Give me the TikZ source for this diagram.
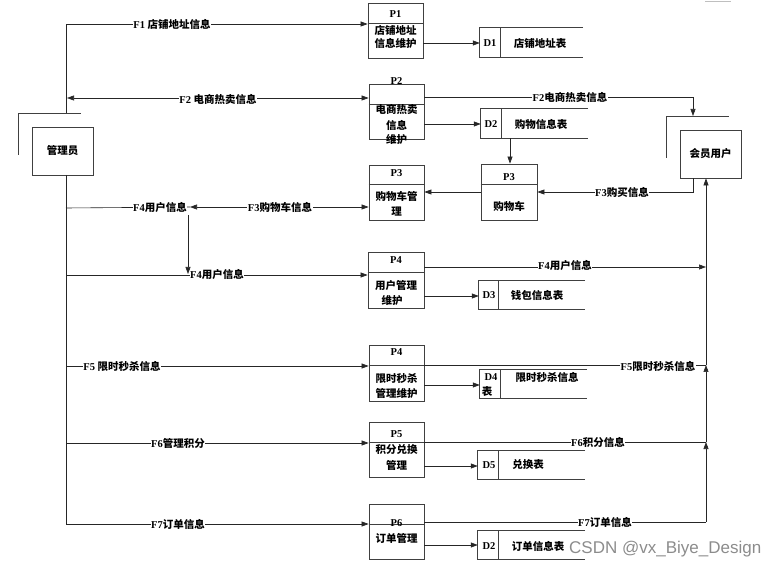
\documentclass[tikz,border=0pt]{standalone}
\usepackage{fontspec}
\setmainfont{Liberation Serif}
\newfontfamily\cjk{Noto Sans CJK SC}
\newfontfamily\wmfont{Liberation Sans}
\usetikzlibrary{arrows.meta}
\newcommand\zh[1]{{\cjk #1}}
\tikzset{
  boxline/.style={draw=black!75, line width=0.8pt},
  box/.style={boxline, inner sep=0pt, font=\fontsize{10.5}{12}\selectfont\bfseries},
  store/.style={inner sep=0pt, minimum height=29pt},
  txt/.style={inner sep=0.5pt, font=\fontsize{10.5}{12}\selectfont\bfseries},
  lab/.style={txt, fill=white},
  flow/.style={draw=black!85, line width=0.6pt},
  arr/.style={flow, -{Triangle[length=7pt,width=5pt]}},
  darr/.style={flow, {Triangle[length=7pt,width=5pt]}-{Triangle[length=7pt,width=5pt]}},
  proc/.style={box, minimum width=55pt, minimum height=55pt},
}
\begin{document}
\begin{tikzpicture}[x=1pt,y=-1pt]
\useasboundingbox (0,0) rectangle (774,569);
% external entities
\node[box, minimum width=61pt, minimum height=48pt] (mgr) at (62.5,151) {\zh{管理员}};
\draw[boxline] (18,155) -- (18,113) -- (81,113);
\node[box, minimum width=61pt, minimum height=48pt] (mem) at (710.5,154) {\zh{会员用户}};
\draw[boxline] (666,158) -- (666,116) -- (729,116);
% processes
\node[proc] (P1) at (395.5,30.5) {};
\draw[boxline] (P1.west |- 0,23) -- (P1.east |- 0,23);
\node[txt] (P1id) at (395.5,14) {P1};
\node[txt] (P1a) at (395.5,30) {\zh{店铺地址}};
\node[txt] (P1b) at (395.5,43) {\zh{信息维护}};

\node[proc] (P2) at (396.5,111.5) {};
\draw[boxline] (P2.west |- 0,104) -- (P2.east |- 0,104);
\node[txt] (P2id) at (396.5,81) {P2};
\node[txt] (P2a) at (396.5,110) {\zh{电商热卖}};
\node[txt] (P2b) at (396.5,125) {\zh{信息}};
\node[txt] (P2c) at (396.5,140) {\zh{维护}};

\node[proc] (P3a) at (396.5,192.5) {};
\draw[boxline] (P3a.west |- 0,184) -- (P3a.east |- 0,184);
\node[txt] (P3aid) at (396.5,173) {P3};
\node[txt] (P3aa) at (396.5,196) {\zh{购物车管}};
\node[txt] (P3ab) at (396.5,212) {\zh{理}};

\node[proc, minimum width=56pt, minimum height=56pt] (P3b) at (509,192) {};
\draw[boxline] (P3b.west |- 0,184) -- (P3b.east |- 0,184);
\node[txt] (P3bid) at (509,177) {P3};
\node[txt] (P3ba) at (509,206) {\zh{购物车}};

\node[proc, minimum width=56pt, minimum height=56pt] (P4) at (396,280) {};
\draw[boxline] (P4.west |- 0,272) -- (P4.east |- 0,272);
\node[txt] (P4id) at (396,260) {P4};
\node[txt] (P4a) at (396,286) {\zh{用户管理}};
\node[txt] (P4b) at (392,301) {\zh{维护}};

\node[proc, minimum height=56pt] (P4x) at (396.5,373) {};
\node[txt] (P4xid) at (396.5,352) {P4};
\node[txt] (P4xa) at (396.5,378) {\zh{限时秒杀}};
\node[txt] (P4xb) at (396.5,393) {\zh{管理维护}};

\node[proc] (P5) at (396.5,449.5) {};
\node[txt] (P5id) at (396.5,434) {P5};
\node[txt] (P5a) at (396.5,450) {\zh{积分兑换}};
\node[txt] (P5b) at (396.5,465) {\zh{管理}};

\node[proc] (P6) at (396.5,531.5) {};
\node[txt] (P6a) at (396.5,538) {\zh{订单管理}};

% data stores
\node[store, minimum width=103pt] (D1) at (531.5,42.5) {};
\draw[boxline] (D1.north east) -- (D1.north west) -- (D1.south west) -- (D1.south east);
\draw[boxline] (500,28) -- (500,57);
\node[txt] (D1id) at (490,43) {D1};
\node[txt] (D1t) at (540,43) {\zh{店铺地址表}};

\node[store, minimum width=107pt] (D2) at (534.5,123.5) {};
\draw[boxline] (D2.north east) -- (D2.north west) -- (D2.south west) -- (D2.south east);
\draw[boxline] (501,109) -- (501,138);
\node[txt] (D2id) at (491,124) {D2};
\node[txt] (D2t) at (541,124) {\zh{购物信息表}};

\node[store, minimum width=106pt, minimum height=28pt] (D3) at (532,295) {};
\draw[boxline] (D3.north east) -- (D3.north west) -- (D3.south west) -- (D3.south east);
\draw[boxline] (498,281) -- (498,309);
\node[txt] (D3id) at (489,295) {D3};
\node[txt] (D3t) at (537,295) {\zh{钱包信息表}};

\node[store, minimum width=107pt, minimum height=28pt] (D4) at (533.5,384) {};
\draw[boxline] (D4.north east) -- (D4.north west) -- (D4.south west) -- (D4.south east);
\draw[boxline] (500,370) -- (500,398);
\node[txt] (D4id) at (491,377) {D4};
\node[txt] (D4b) at (487,392) {\zh{表}};
\node[txt] (D4t) at (547,377) {\zh{限时秒杀信息}};

\node[store, minimum width=107pt, minimum height=28pt] (D5) at (531.5,465) {};
\draw[boxline] (D5.north east) -- (D5.north west) -- (D5.south west) -- (D5.south east);
\draw[boxline] (498,451) -- (498,479);
\node[txt] (D5id) at (489,465) {D5};
\node[txt] (D5t) at (528,465) {\zh{兑换表}};

\node[store, minimum width=107pt, minimum height=28pt] (D6) at (531.5,545) {};
\draw[boxline] (D6.north east) -- (D6.north west) -- (D6.south west) -- (D6.south east);
\draw[boxline] (498,531) -- (498,559);
\node[txt] (D6id) at (489,546) {D2};
\node[txt] (D6t) at (538,546) {\zh{订单信息表}};

% trunk on the left
\coordinate (tS) at (66,113);
\coordinate (t1) at (66,24);
\coordinate (t2) at (67,98);
\coordinate (tM) at (66,175);
\coordinate (t3) at (66,208);
\coordinate (t4) at (66,275);
\coordinate (t5) at (66,366);
\coordinate (t6) at (66,443);
\coordinate (t7) at (66,524);
\draw[arr] (tS) -- (t1) -- (t1 -| P1.west);
\draw[flow] (tM) -- (t7);
\draw[darr] (t2) -- (t2 -| P2.west);
\coordinate (k3) at (190,207);
\draw[flow] (t3) -- (k3);
\draw[darr] (k3) -- (k3 -| P3a.west);
\draw[arr] (188,215) -- (188,274);
\draw[arr] (t4) -- (t4 -| P4.west);
\draw[arr] (t5) -- (t5 -| P4x.west);
\draw[arr] (t6) -- (t6 -| P5.west);
\draw[arr] (t7) -- (t7 -| P6.west);

% dividers that carry through
\draw[boxline] (P4x.west |- 0,365) -- (P4x.east |- 0,365);
\draw[boxline] (P5.west |- 0,442) -- (P5.east |- 0,442);
\draw[boxline] (P6.west |- 0,524) -- (P6.east |- 0,524);

% process to store arrows
\draw[arr] (P1.east |- 0,43) -- (D1.west |- 0,43);
\draw[arr] (P2.east |- 0,124) -- (D2.west |- 0,124);
\draw[arr] (D2.south -| 510,0) -- (P3b.north -| 510,0);
\draw[arr] (P3b.west |- 0,192) -- (P3a.east |- 0,192);
\draw[arr] (P4.east |- 0,296) -- (D3.west |- 0,296);
\draw[arr] (P4x.east |- 0,385) -- (D4.west |- 0,385);
\draw[arr] (P5.east |- 0,466) -- (D5.west |- 0,466);
\draw[arr] (P6.east |- 0,545) -- (D6.west |- 0,545);

% flows on the right
\coordinate (r2) at (693,97);
\draw[arr] (P2.east |- r2) -- (r2) -- (693,116);
\coordinate (r3) at (693,192);
\draw[arr] (mem.south -| r3) -- (r3) -- (r3 -| P3b.east);
\coordinate (v4) at (706,267);
\coordinate (v5) at (706,365);
\coordinate (v6) at (706,442);
\coordinate (v7) at (706,522);
\draw[arr] (P4.east |- v4) -- (v4);
\draw[flow] (P4x.east |- v5) -- (v5);
\draw[flow] (P5.east |- v6) -- (v6);
\draw[flow] (P6.east |- v7) -- (v7);
\draw[arr] (v7) -- (v6);
\draw[arr] (v6) -- (v5);
\draw[arr] (v5) -- (mem.south -| v5);

% labels
\node[lab] (lF1) at (172,24) {F1 \zh{店铺地址信息}};
\node[lab] (lF2) at (218,99) {F2 \zh{电商热卖信息}};
\node[lab] (lF2r) at (570,97) {F2\zh{电商热卖信息}};
\node[lab] (lF3r) at (622,192) {F3\zh{购买信息}};
\node[lab] (lF3) at (280,207) {F3\zh{购物车信息}};
\node[lab] (lF4a) at (160,208) {F4\zh{用户信息}};
\node[lab] (lF4b) at (217,275) {F4\zh{用户信息}};
\node[lab] (lF4r) at (565,266) {F4\zh{用户信息}};
\node[lab] (lF5) at (122,366) {F5 \zh{限时秒杀信息}};
\node[lab] (lF5r) at (658,366) {F5\zh{限时秒杀信息}};
\node[lab] (lF6) at (178,443) {F6\zh{管理积分}};
\node[lab] (lF6r) at (598,442) {F6\zh{积分信息}};
\node[lab] (lF7) at (178,524) {F7\zh{订单信息}};
\node[lab] (lF7r) at (605,522) {F7\zh{订单信息}};
\node[txt] (P6id) at (396.5,523) {P6};

% artefacts of the screenshot
\draw[black!25, line width=0.8pt] (705,1) -- (731,1);
\node[inner sep=0pt, anchor=west, text=black!45, font=\wmfont\fontsize{17}{19}\selectfont] (wm) at (569,549) {CSDN @vx\_Biye\_Design};
\end{tikzpicture}
\end{document}
